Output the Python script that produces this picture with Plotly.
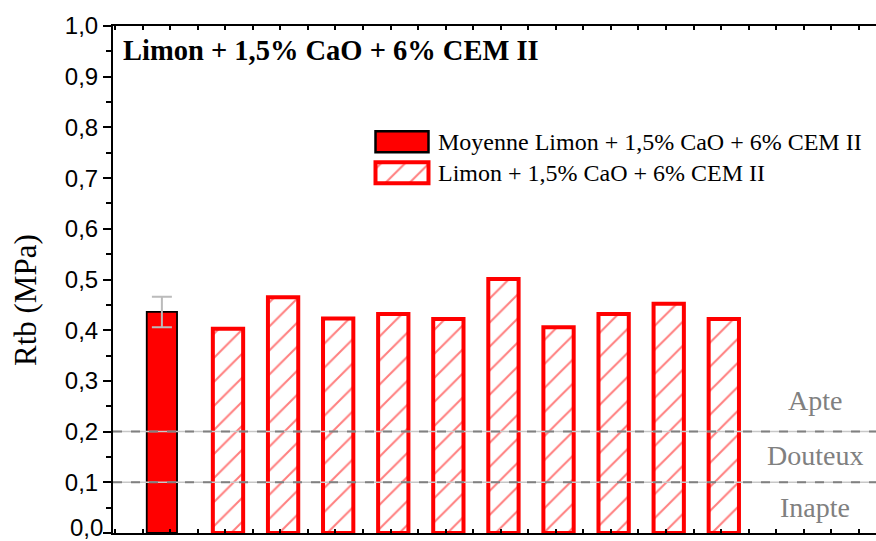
import plotly.graph_objects as go

# ---- data ----
sample_labels = ["1", "2", "3", "4", "5", "6", "7", "8", "9", "10"]
sample_values = [0.403, 0.465, 0.423, 0.432, 0.422, 0.501, 0.406, 0.432, 0.452, 0.422]
mean_label = "Moyenne"
mean_value = 0.436
mean_error = 0.030
title_text = "Limon + 1,5% CaO + 6% CEM II"
legend_mean = "Moyenne Limon + 1,5% CaO + 6% CEM II"
legend_samples = "Limon + 1,5% CaO + 6% CEM II"
threshold_values = [0.2, 0.1]
zone_labels = ["Apte", "Douteux", "Inapte"]
zone_centers = [0.262, 0.153, 0.051]
y_tick_values = [0.0, 0.1, 0.2, 0.3, 0.4, 0.5, 0.6, 0.7, 0.8, 0.9, 1.0]
y_tick_labels = ["", "0,1", "0,2", "0,3", "0,4", "0,5", "0,6", "0,7", "0,8", "0,9", "1,0"]
y_zero_label = "0,0"

RED = "#FF0000"
GRAY = "#808080"
SERIF = "Liberation Serif, Times New Roman, serif"
SANS = "Liberation Sans, Arial, sans-serif"

W, H = 876, 541
ML, MR, MT, MB = 113, 0, 26, 8
PW = W - ML - MR
PH = H - MT - MB

x_samples = list(range(1, len(sample_values) + 1))
x_mean = x_samples[0] - 1.2
bar_w = 0.55
hatch = dict(shape="/", fgcolor=RED, bgcolor="white", size=17, solidity=0.12)

fig = go.Figure()

fig.add_trace(go.Bar(
    x=[x_mean], y=[mean_value], width=bar_w, name=mean_label,
    marker=dict(color=RED, line=dict(color="black", width=1.8)),
    error_y=dict(type="data", array=[mean_error], color="#BBBBBB", thickness=2, width=10),
    showlegend=False,
))
fig.add_trace(go.Bar(
    x=x_samples, y=sample_values, width=bar_w, name=legend_samples,
    marker=dict(color="white", line=dict(color=RED, width=4), pattern=hatch),
    showlegend=False,
))

# threshold lines
for v in threshold_values:
    fig.add_hline(y=v, line=dict(color="#C8C8C8", width=1.5), layer="above")
    fig.add_hline(y=v, line=dict(color=GRAY, width=2, dash="dash"), layer="above")

# zone labels
for lab, yc in zip(zone_labels, zone_centers):
    fig.add_annotation(x=(815 - ML) / PW, xref="paper", y=yc, yref="y",
                       text=lab, showarrow=False, xanchor="center", yanchor="middle",
                       font=dict(family=SERIF, size=28, color=GRAY))

# title inside plot
fig.add_annotation(x=(121 - ML) / PW, xref="paper", y=(533 - 50) / PH, yref="paper",
                   text="<b>" + title_text + "</b>", showarrow=False,
                   xanchor="left", yanchor="middle",
                   font=dict(family=SERIF, size=28.5, color="black"))

# y axis title
fig.add_annotation(x=-(ML - 25) / PW, xref="paper", y=(533 - 300) / PH, yref="paper",
                   text="Rtb (MPa)", textangle=-90, showarrow=False,
                   xanchor="center", yanchor="middle",
                   font=dict(family=SERIF, size=31, color="black"))

# bottom tick label (kept inside the page)
fig.add_annotation(x=-(ML - 101) / PW, xref="paper", y=-MB / PH, yref="paper",
                   text=y_zero_label, showarrow=False, xanchor="right", yanchor="bottom",
                   xshift=2, borderpad=0, borderwidth=0,
                   font=dict(family=SANS, size=24, color="black"))

# legend built on a small auxiliary axis pair
leg_x0, leg_x1 = 370, 434
leg_y0, leg_y1 = 126.2, 188.2
sw_base = (375.5 - leg_x0) / (leg_x1 - leg_x0)
sw_len = (428.5 - 375.5) / (leg_x1 - leg_x0)
fig.add_trace(go.Bar(
    y=[1], x=[sw_len], base=[sw_base], orientation="h", width=0.68,
    marker=dict(color=RED, line=dict(color="black", width=2.5)),
    xaxis="x2", yaxis="y2", showlegend=False, hoverinfo="skip",
))
fig.add_trace(go.Bar(
    y=[0], x=[sw_len], base=[sw_base], orientation="h", width=0.68,
    marker=dict(color="white", line=dict(color=RED, width=4),
                pattern=dict(shape="/", fgcolor=RED, bgcolor="white", size=17, solidity=0.12)),
    xaxis="x2", yaxis="y2", showlegend=False, hoverinfo="skip",
))
for txt, yc in [(legend_mean, 141.7), (legend_samples, 172.7)]:
    fig.add_annotation(x=(436 - ML) / PW, xref="paper", y=(533 - yc) / PH, yref="paper",
                       text=txt, showarrow=False, xanchor="left", yanchor="middle",
                       font=dict(family=SERIF, size=24, color="black"))

x_lo = x_samples[0] - (228 - ML) / 55.09
x_hi = x_samples[0] + (W - 228) / 55.09

fig.update_layout(
    width=W, height=H,
    margin=dict(l=ML, r=MR, t=MT, b=MB),
    paper_bgcolor="white", plot_bgcolor="white",
    barmode="overlay",
    showlegend=False,
    xaxis=dict(range=[x_lo, x_hi], showgrid=False, zeroline=False,
               showline=True, linecolor="black", linewidth=2, mirror="ticks",
               ticks="inside", ticklen=4, tickwidth=1.5, tickcolor="black",
               tick0=-0.55, dtick=0.5, showticklabels=False),
    yaxis=dict(range=[0, 1.0], showgrid=False, zeroline=False,
               showline=True, linecolor="black", linewidth=2,
               ticks="outside", ticklen=8, tickwidth=1.5, tickcolor="black",
               tickvals=y_tick_values, ticktext=y_tick_labels,
               tickfont=dict(family=SANS, size=24, color="black"),
               minor=dict(dtick=0.05, tick0=0, ticks="outside", ticklen=5, tickwidth=1.5,
                          tickcolor="black")),
    xaxis2=dict(domain=[(leg_x0 - ML) / PW, (leg_x1 - ML) / PW], range=[0, 1],
                anchor="y2", visible=False, fixedrange=True),
    yaxis2=dict(domain=[(533 - leg_y1) / PH, (533 - leg_y0) / PH], range=[-0.5, 1.5],
                anchor="x2", visible=False, fixedrange=True),
)

fig.write_html(
    "out.html", config={"displayModeBar": False},
    post_script="document.body.style.margin='0';document.body.style.overflow='hidden';",
)
